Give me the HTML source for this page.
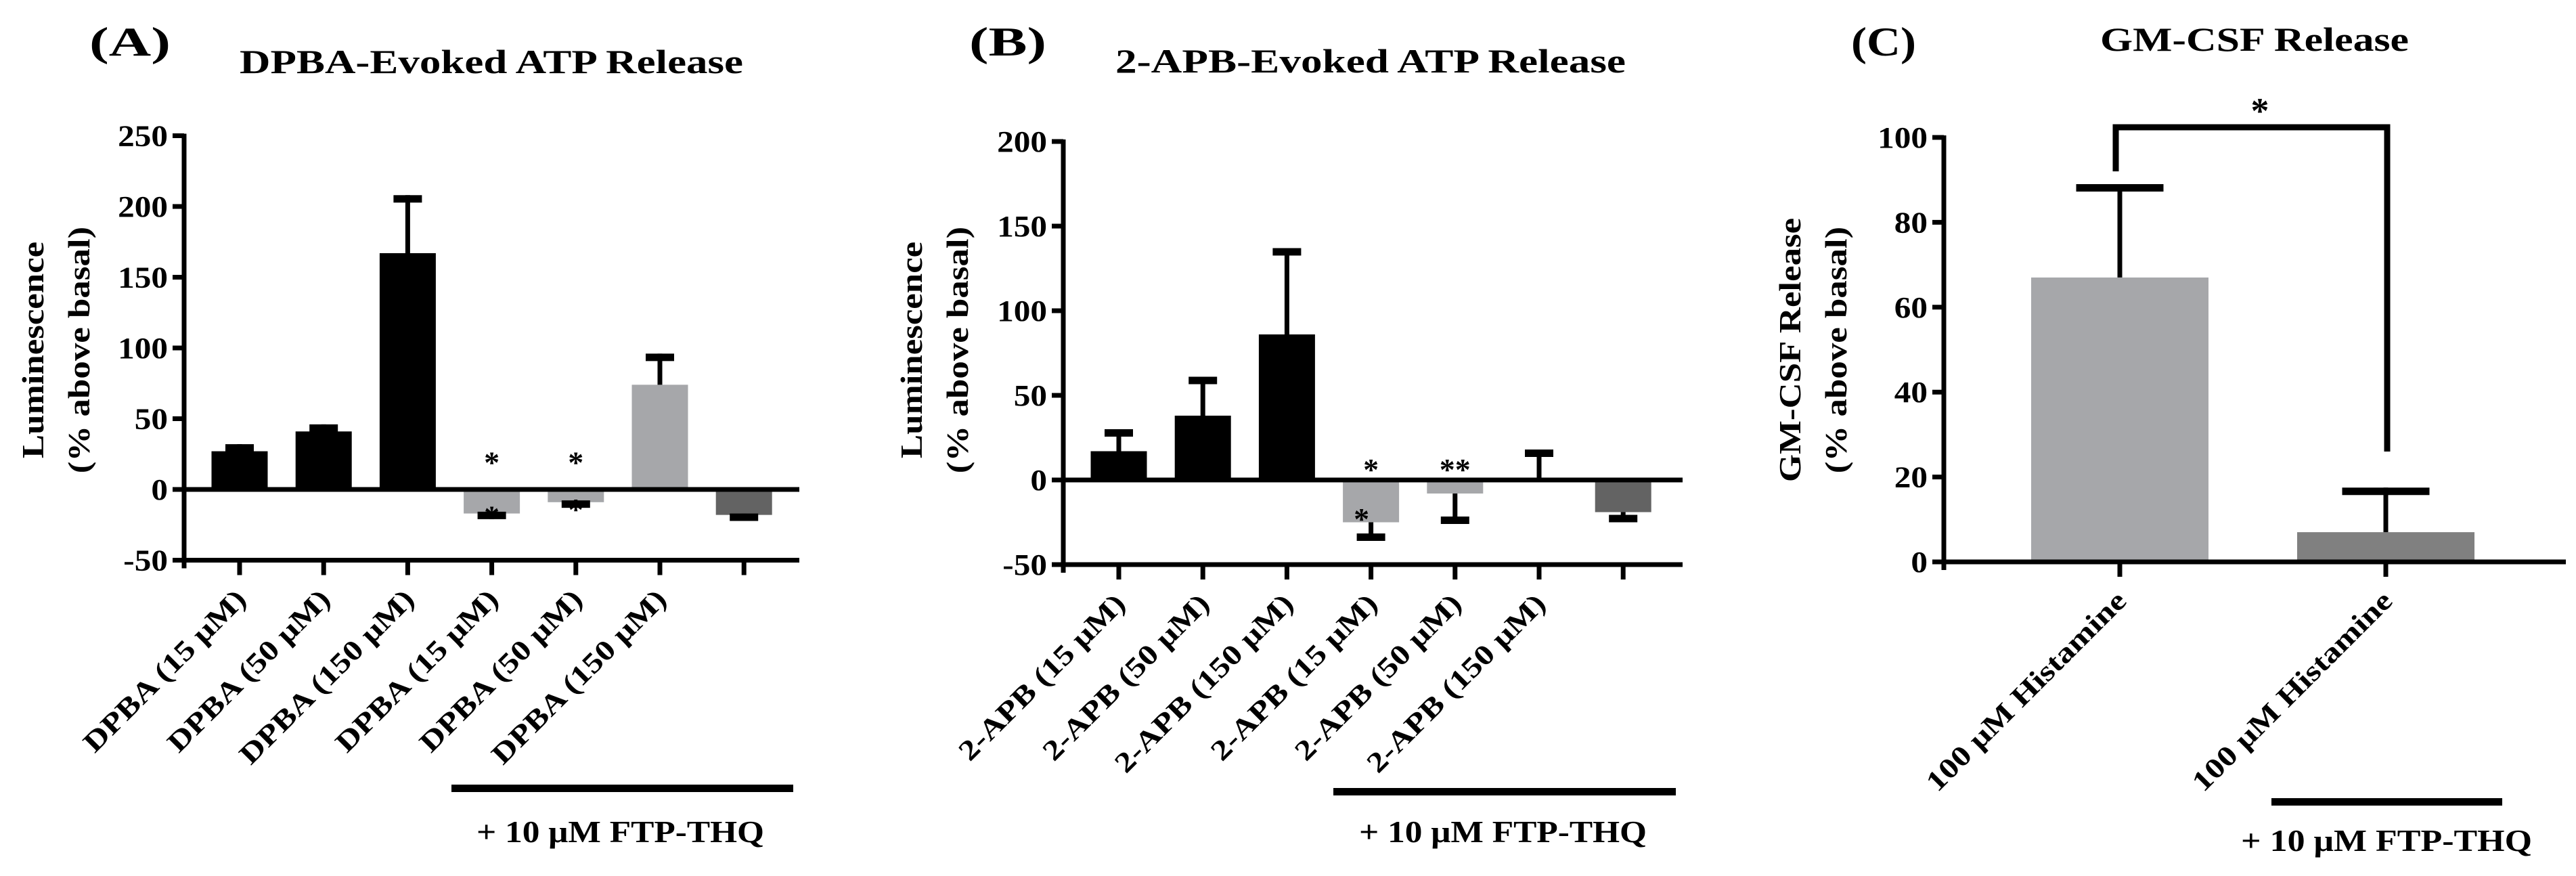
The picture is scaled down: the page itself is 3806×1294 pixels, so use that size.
<!DOCTYPE html>
<html><head><meta charset="utf-8"><style>
html,body{margin:0;padding:0;background:#fff;}
svg{display:block;}
text{font-family:"Liberation Serif","DejaVu Serif",serif;font-weight:bold;fill:#000;}
</style></head><body>
<svg id="fig" width="3806" height="1294" viewBox="0 0 3806 1294" xmlns="http://www.w3.org/2000/svg"></svg>
<script>
// Panel A data
const catsA = ["DPBA (15 \u03bcM)","DPBA (50 \u03bcM)","DPBA (150 \u03bcM)","DPBA (15 \u03bcM)","DPBA (50 \u03bcM)","DPBA (150 \u03bcM)",""];
const valsA = [27, 41, 167, -17, -9, 74, -18];
const errA = [32, 46, 208, -21, -13, 96, -17];
const ticksA = [-50, 0, 50, 100, 150, 200, 250];
// Panel B data
const catsB = ["2-APB (15 \u03bcM)","2-APB (50 \u03bcM)","2-APB (150 \u03bcM)","2-APB (15 \u03bcM)","2-APB (50 \u03bcM)","2-APB (150 \u03bcM)",""];
const valsB = [17, 38, 86, -25, -8, 0, -19];
const errB = [30, 61, 137, -36, -26, 18, -25];
const ticksB = [-50, 0, 50, 100, 150, 200];
// Panel C data
const catsC = ["100 \u03bcM Histamine","100 \u03bcM Histamine"];
const valsC = [67, 7];
const errC = [89, 17.5];
const ticksC = [0, 20, 40, 60, 80, 100];

const colorsA = ["#000","#000","#000","#a6a7aa","#a6a7aa","#a6a7aa","#636363"];
const colorsC = ["#a6a7aa","#808080"];

const NS = "http://www.w3.org/2000/svg";
const svg = document.getElementById("fig");
function mk(tag, attrs, parent) {
  const e = document.createElementNS(NS, tag);
  for (const k in attrs) e.setAttribute(k, attrs[k]);
  (parent || svg).appendChild(e);
  return e;
}
function txt(s, attrs, parent) { const t = mk("text", attrs, parent); t.textContent = s; return t; }
const stretchList = [];
function stretch(t, f) { stretchList.push([t, f]); }

function panel(p) {
  const g = mk("g", {});
  
  
  const y = v => p.y0 - (v) * p.pxPer;
  const xc = i => p.x0 + i * p.step;
  p.vals.forEach((v, i) => {
    const top = Math.min(y(v), y(0)), h = Math.abs(y(v) - y(0));
    const r = mk("rect", {x: xc(i) - p.bw / 2, y: top, width: p.bw, height: Math.max(h, 0.01), fill: p.colors[i]}, g);
    
    
    const e = p.errs[i];
    const eg = mk("g", {}, g);
    
    
    mk("line", {x1: xc(i), x2: xc(i), y1: y(v), y2: y(e), stroke: "#000", "stroke-width": 7}, eg);
    const dir = e >= v ? 1 : -1;
    mk("rect", {x: xc(i) - p.cw / 2, y: dir > 0 ? y(e) : y(e) - 11, width: p.cw, height: 11, fill: "#000"}, eg);
  });
  const axis = mk("g", {}, g);
  
  
  const ymin = p.ticks[0], ymax = p.ticks[p.ticks.length - 1];
  mk("line", {x1: p.ax, x2: p.ax, y1: y(ymax) - 3, y2: y(ymin) + 12, stroke: "#000", "stroke-width": 7}, axis);
  p.ticks.forEach(t => {
    mk("line", {x1: p.ax - 17, x2: p.ax, y1: y(t), y2: y(t), stroke: "#000", "stroke-width": 7}, axis);
    const l = txt(String(t), {x: p.ax - 24, y: y(t) + 15, "font-size": 44, "text-anchor": "end"}, axis);
    
    
    stretch(l, 1.12);
  });
  const xa = mk("g", {}, g);
  
  
  mk("line", {x1: p.ax - 17, x2: p.axEnd, y1: y(ymin), y2: y(ymin), stroke: "#000", "stroke-width": 7}, xa);
  if (ymin < 0) mk("line", {x1: p.ax - 17, x2: p.axEnd, y1: y(0), y2: y(0), stroke: "#000", "stroke-width": 7}, xa);
  p.cats.forEach((c, i) => {
    mk("line", {x1: xc(i), x2: xc(i), y1: y(ymin), y2: y(ymin) + 22, stroke: "#000", "stroke-width": 7}, xa);
    if (c) {
      const l = txt(c, {x: 0, y: 0, "font-size": p.lfs, "text-anchor": "end", transform: `translate(${xc(i) + 12},${y(ymin) + 60}) rotate(-45)`}, xa);
      
      
      stretch(l, 1.2);
    }
  });
  const yt = txt(p.yt1, {x: 0, y: 0, "font-size": 46, "text-anchor": "middle", transform: `translate(${p.yt1x},517) rotate(-90)`}, g);
  
  
  stretch(yt, 1.15);
  const yt2 = txt("(% above basal)", {x: 0, y: 0, "font-size": 46, "text-anchor": "middle", transform: `translate(${p.yt1x + 68},517) rotate(-90)`}, g);
  
  
  stretch(yt2, 1.15);
  const tl = txt(p.letter, {x: p.letX, y: 82, "font-size": 60, textLength: p.letW, lengthAdjust: "spacingAndGlyphs"}, g);
  
  
  const tt = txt(p.title, {x: p.titleX, y: p.titleY, "font-size": 50, textLength: p.titleW, lengthAdjust: "spacingAndGlyphs"}, g);
  
  
  const br = mk("rect", {x: p.brX1, y: p.brY - 5, width: p.brX2 - p.brX1, height: 11, fill: "#000"}, g);
  
  
  const bt = txt("+ 10 \u03bcM FTP-THQ", {x: p.btX, y: p.btY, "font-size": 46, textLength: p.btW, lengthAdjust: "spacingAndGlyphs"}, g);
  
  
  return {g, y, xc};
}

const A = panel({name: "panel-a", cats: catsA, vals: valsA, errs: errA, ticks: ticksA, colors: colorsA,
  x0: 354, step: 124.2, bw: 83, cw: 42, ax: 272, axEnd: 1181, y0: 723, pxPer: 104.5 / 50, lfs: 42,
  yt1: "Luminescence", yt1x: 64, letter: "(A)", letX: 132, letW: 120, title: "DPBA-Evoked ATP Release", titleX: 354, titleY: 108, titleW: 744,
  brX1: 667, brX2: 1172, brY: 1164, btX: 704, btY: 1244, btW: 425});
[[3, 26], [4, 26]].forEach(([i, v]) => {
  const s = txt("*", {x: A.xc(i), y: A.y(v) + 30, "font-size": 46, "text-anchor": "middle"}, A.g);
  
  
});
[[3, -16], [4, -11]].forEach(([i, v]) => {
  const s = txt("*", {x: A.xc(i), y: A.y(v) + 22, "font-size": 46, "text-anchor": "middle"}, A.g);
  
  
});

const colorsB = colorsA;
const B = panel({name: "panel-b", cats: catsB, vals: valsB, errs: errB, ticks: ticksB, colors: colorsB,
  x0: 1653, step: 124.2, bw: 83, cw: 42, ax: 1571, axEnd: 2486, y0: 709, pxPer: 125 / 50, lfs: 42,
  yt1: "Luminescence", yt1x: 1362, letter: "(B)", letX: 1432, letW: 114, title: "2-APB-Evoked ATP Release", titleX: 1648, titleY: 107, titleW: 754,
  brX1: 1970, brX2: 2476, brY: 1169, btX: 2008, btY: 1244, btW: 425});
[[3, "*", 12], [4, "**", 12]].forEach(([i, s0, v]) => {
  const s = txt(s0, {x: B.xc(i), y: B.y(v) + 30, "font-size": 46, "text-anchor": "middle"}, B.g);
  
  
});
{
  const s = txt("*", {x: B.xc(3) - 14, y: B.y(-18) + 28, "font-size": 46, "text-anchor": "middle"}, B.g);
  
  
}

const C = panel({name: "panel-c", cats: catsC, vals: valsC, errs: errC, ticks: ticksC, colors: colorsC,
  x0: 3132, step: 393, bw: 262, cw: 129, ax: 2872, axEnd: 3791, y0: 830, pxPer: 125.4 / 20, lfs: 42,
  yt1: "GM-CSF Release", yt1x: 2660, letter: "(C)", letX: 2735, letW: 96, title: "GM-CSF Release", titleX: 3103, titleY: 75, titleW: 456,
  brX1: 3356, brX2: 3697, brY: 1184, btX: 3311, btY: 1257, btW: 430});
{
  const sg = mk("g", {}, C.g);
  
  
  mk("polyline", {points: `${C.xc(0) - 6},${C.y(92)} ${C.xc(0) - 6},188 ${C.xc(1) + 2},188 ${C.xc(1) + 2},${C.y(26)}`, fill: "none", stroke: "#000", "stroke-width": 9}, sg);
  const s = txt("*", {x: 3339, y: 182, "font-size": 54, "text-anchor": "middle"}, sg);
  
  
}
stretchList.forEach(([t, f]) => {
  const w = t.getComputedTextLength();
  if (w > 0) {
    t.setAttribute("textLength", w * f);
    t.setAttribute("lengthAdjust", "spacingAndGlyphs");
  }
});
</script>
</body></html>
